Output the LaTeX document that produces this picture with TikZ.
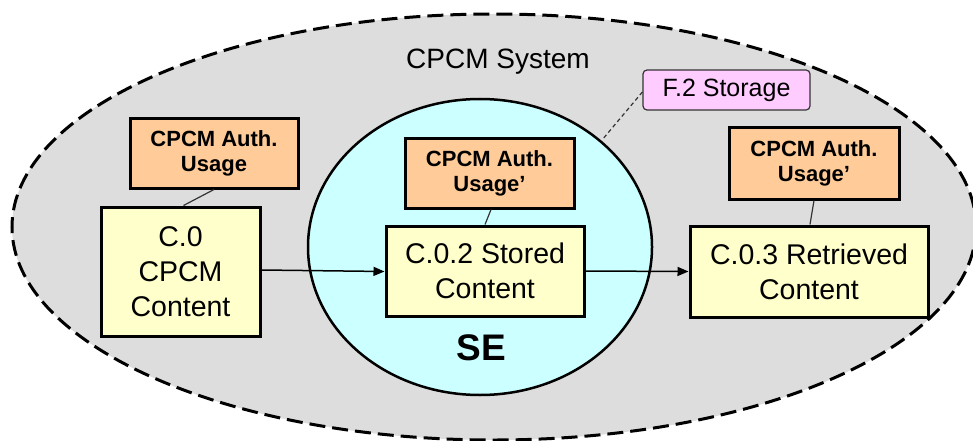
\documentclass[tikz,border=0pt]{standalone}
\usepackage{fontspec}
\setmainfont{Liberation Sans}
\usetikzlibrary{arrows.meta}
\definecolor{sysgray}{HTML}{DDDDDD}
\definecolor{secyan}{HTML}{CCFFFF}
\definecolor{authorange}{HTML}{FFCC99}
\definecolor{contyellow}{HTML}{FFFFCC}
\definecolor{storpink}{HTML}{FFCCFF}
\tikzset{
  authbox/.style={draw=black, line width=3pt, fill=authorange, inner sep=0pt, align=center,
    font=\fontsize{22}{25}\selectfont\bfseries},
  contbox/.style={draw=black, line width=3pt, fill=contyellow, inner sep=0pt, align=center,
    font=\fontsize{28.5}{35}\selectfont},
  link/.style={draw=black!80, line width=1.2pt},
  flow/.style={draw=black, line width=1.5pt, -{Triangle[length=11pt,width=9pt]}},
}
\begin{document}
\begin{tikzpicture}[x=1pt,y=-1pt]
\useasboundingbox (0,0) rectangle (973,441);
\clip (0,0) rectangle (973,441);
% outer system ellipse
\draw[fill=sysgray, line width=3pt, dash pattern=on 16pt off 7pt] (494,227) ellipse [x radius=482, y radius=213];
\node[font=\fontsize{28}{30}\selectfont] (sys) at (498,62) {CPCM System};
% SE circle
\draw[fill=secyan, line width=2.5pt] (480,247) ellipse [x radius=172, y radius=148];
\coordinate (seedge) at (602,140);
\node[font=\fontsize{37}{40}\selectfont\bfseries] (se) at (481,348) {SE};
% F.2 Storage
\node[draw=black!80, line width=1.2pt, fill=storpink, rounded corners=4pt, inner sep=0pt,
  minimum width=167pt, minimum height=40pt, font=\fontsize{25}{28}\selectfont] (stor) at (726.5,90) {F.2 Storage};
\draw[draw=black!80, line width=1.2pt, dash pattern=on 4pt off 3pt] (stor.west) ++(0,2) -- (seedge);
% auth boxes
\node[authbox, minimum width=168pt, minimum height=70pt] (a1) at (214,153) {CPCM Auth.\\Usage};
\node[authbox, minimum width=169pt, minimum height=70pt] (a2) at (489.5,173) {CPCM Auth.\\Usage’};
\node[authbox, minimum width=170pt, minimum height=72pt] (a3) at (814,163) {CPCM Auth.\\Usage’};
% content boxes
\node[contbox, minimum width=159pt, minimum height=129pt] (c0) at (180.5,271.5) {C.0\\CPCM\\Content};
\node[contbox, minimum width=198pt, minimum height=90pt] (c2) at (485,271) {C.0.2 Stored\\Content};
\node[contbox, minimum width=238pt, minimum height=91pt] (c3) at (809,271.5) {C.0.3 Retrieved\\Content};
% links
\draw[link] (a1.south) -- ([xshift=3pt]c0.north);
\draw[link] ([xshift=1.5pt]a2.south) -- (c2.north);
\draw[link] (a3.south) -- ([xshift=1pt]c3.north);
% flows
\draw[flow] ([yshift=1.5pt]c0.east) -- (c0.east -| c2.west);
\draw[flow] (c2.east) -- (c3.west);
\end{tikzpicture}
\end{document}
